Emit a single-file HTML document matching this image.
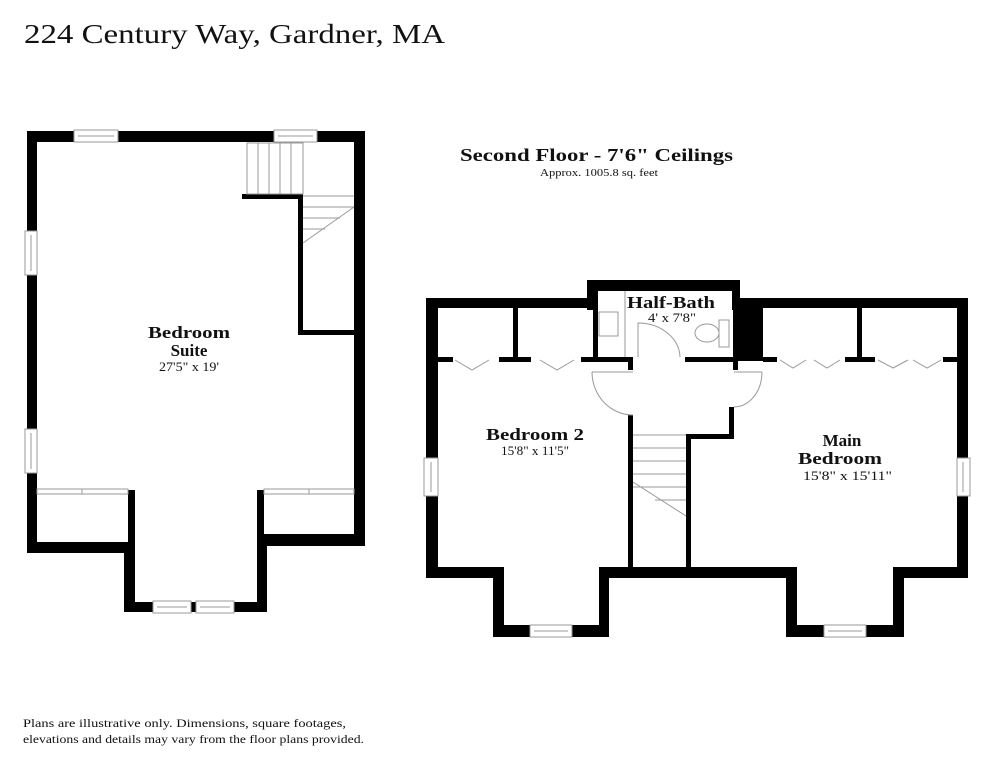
<!DOCTYPE html>
<html><head><meta charset="utf-8"><style>
html,body{margin:0;padding:0;background:#fff;}
svg{display:block;}
text{font-family:"Liberation Serif",serif;fill:#111;}
.b{font-weight:bold;}
</style></head><body>
<svg width="994" height="768" viewBox="0 0 994 768" xmlns="http://www.w3.org/2000/svg">
<rect width="994" height="768" fill="#fff"/>
<text x="24" y="43" font-size="27" textLength="421" lengthAdjust="spacingAndGlyphs">224 Century Way, Gardner, MA</text>

<!-- LEFT PLAN -->
<g fill="#000">
<rect x="27" y="131" width="338" height="11"/>
<rect x="27" y="131" width="10" height="422"/>
<rect x="354" y="131" width="11" height="415"/>
<rect x="27" y="542" width="108" height="11"/>
<rect x="128" y="490" width="7" height="63"/>
<rect x="124" y="542" width="11" height="70"/>
<rect x="124" y="602" width="143" height="10"/>
<rect x="257" y="534" width="10" height="78"/>
<rect x="257" y="490" width="7" height="50"/>
<rect x="257" y="534" width="108" height="12"/>
<rect x="242" y="194" width="61" height="5"/>
<rect x="298" y="194" width="5" height="141"/>
<rect x="298" y="330" width="56" height="5"/>
</g>
<g fill="#fff" stroke="#999" stroke-width="1">
<rect x="74" y="130" width="44" height="12"/>
<rect x="274" y="130" width="43" height="12"/>
<rect x="25" y="231" width="12" height="44"/>
<rect x="25" y="429" width="12" height="44"/>
<rect x="153" y="601" width="38" height="12"/>
<rect x="196" y="601" width="38" height="12"/>
</g>
<g stroke="#999" stroke-width="1" fill="none">
<line x1="78" y1="136" x2="114" y2="136"/><line x1="278" y1="136" x2="313" y2="136"/>
<line x1="31" y1="235" x2="31" y2="271"/><line x1="31" y1="433" x2="31" y2="469"/>
<line x1="157" y1="607" x2="187" y2="607"/><line x1="200" y1="607" x2="230" y2="607"/>
<rect x="37" y="489" width="91" height="5"/><rect x="264" y="489" width="90" height="5"/>
<line x1="82" y1="489" x2="82" y2="494"/><line x1="309" y1="489" x2="309" y2="494"/>
<rect x="247" y="143" width="56" height="51"/>
<line x1="258" y1="143" x2="258" y2="194"/><line x1="269" y1="143" x2="269" y2="194"/>
<line x1="280" y1="143" x2="280" y2="194"/><line x1="291" y1="143" x2="291" y2="194"/>
<line x1="303" y1="196" x2="354" y2="196"/>
<line x1="303" y1="207" x2="354" y2="207"/><line x1="303" y1="218" x2="340" y2="218"/>
<line x1="303" y1="229" x2="325" y2="229"/>
<polyline points="303,243 354,207"/>
</g>
<text class="b" x="148" y="338" font-size="17" textLength="82" lengthAdjust="spacingAndGlyphs">Bedroom</text>
<text class="b" x="189" y="356" font-size="17" text-anchor="middle">Suite</text>
<text x="159" y="371" font-size="13" textLength="60" lengthAdjust="spacingAndGlyphs">27'5" x 19'</text>

<!-- HEADINGS -->
<text class="b" x="460" y="161" font-size="18" textLength="273" lengthAdjust="spacingAndGlyphs">Second Floor - 7'6" Ceilings</text>
<text x="540" y="176" font-size="11" textLength="118" lengthAdjust="spacingAndGlyphs">Approx. 1005.8 sq. feet</text>

<!-- RIGHT PLAN -->
<g fill="#000">
<rect x="426" y="298" width="12" height="280"/>
<rect x="426" y="298" width="172" height="10"/>
<rect x="587" y="280" width="11" height="30"/>
<rect x="587" y="280" width="153" height="11"/>
<rect x="732" y="280" width="8" height="30"/>
<rect x="732" y="298" width="236" height="10"/>
<rect x="957" y="298" width="11" height="280"/>
<rect x="733" y="308" width="30" height="53"/>
<rect x="593" y="291" width="5" height="71"/>
<rect x="426" y="567" width="78" height="11"/>
<rect x="493" y="567" width="11" height="70"/>
<rect x="493" y="625" width="116" height="12"/>
<rect x="599" y="567" width="10" height="70"/>
<rect x="599" y="567" width="198" height="11"/>
<rect x="786" y="567" width="11" height="70"/>
<rect x="786" y="625" width="118" height="12"/>
<rect x="893" y="567" width="11" height="70"/>
<rect x="893" y="567" width="75" height="11"/>
<rect x="513" y="308" width="5" height="54"/>
<rect x="857" y="308" width="5" height="54"/>
<rect x="438" y="357" width="15" height="5"/>
<rect x="499" y="357" width="32" height="5"/>
<rect x="581" y="357" width="52" height="5"/>
<rect x="628" y="357" width="5" height="13"/>
<rect x="685" y="357" width="48" height="5"/>
<rect x="733" y="357" width="5" height="13"/>
<rect x="763" y="357" width="14" height="5"/>
<rect x="845" y="357" width="30" height="5"/>
<rect x="943" y="357" width="14" height="5"/>
<rect x="628" y="415" width="5" height="152"/>
<rect x="729" y="407" width="5" height="31"/>
<rect x="686" y="434" width="48" height="5"/>
<rect x="686" y="434" width="5" height="133"/>
</g>
<g fill="#fff" stroke="#999" stroke-width="1">
<rect x="424" y="458" width="14" height="38"/>
<rect x="957" y="458" width="13" height="38"/>
<rect x="530" y="625" width="42" height="12"/>
<rect x="824" y="625" width="42" height="12"/>
</g>
<g stroke="#999" stroke-width="1" fill="none">
<line x1="431" y1="462" x2="431" y2="492"/><line x1="963" y1="462" x2="963" y2="492"/>
<line x1="534" y1="631" x2="568" y2="631"/><line x1="828" y1="631" x2="862" y2="631"/>
<polyline points="455,360 472,370 489,360"/><polyline points="540,360 557,370 574,360"/>
<polyline points="780,360 793,368 806,360"/><polyline points="814,360 827,368 840,360"/>
<polyline points="878,360 893,368 908,360"/><polyline points="913,360 927,368 941,360"/>
<rect x="599" y="312" width="19" height="24"/>
<line x1="625" y1="291" x2="625" y2="357"/>
<path d="M638,357 L638,323 A42,35 0 0 1 680,357"/>
<ellipse cx="707" cy="333" rx="12" ry="9"/>
<rect x="719" y="320" width="10" height="27"/>
<path d="M592,372 L633,372 M592,372 A41,43 0 0 0 633,415"/>
<path d="M762,372 L734,372 M762,372 A28,35 0 0 1 734,407"/>
<line x1="633" y1="435" x2="686" y2="435"/>
<line x1="633" y1="448" x2="686" y2="448"/><line x1="633" y1="461" x2="686" y2="461"/>
<line x1="633" y1="474" x2="686" y2="474"/><line x1="633" y1="487" x2="686" y2="487"/>
<line x1="655" y1="500" x2="686" y2="500"/>
<polyline points="633,482 686,516"/>
</g>
<text class="b" x="627" y="308" font-size="17" textLength="88" lengthAdjust="spacingAndGlyphs">Half-Bath</text>
<text x="648" y="322" font-size="13" textLength="48" lengthAdjust="spacingAndGlyphs">4' x 7'8"</text>
<text class="b" x="486" y="440" font-size="17" textLength="98" lengthAdjust="spacingAndGlyphs">Bedroom 2</text>
<text x="501" y="455" font-size="13" textLength="68" lengthAdjust="spacingAndGlyphs">15'8" x 11'5"</text>
<text class="b" x="842" y="446" font-size="17" text-anchor="middle">Main</text>
<text class="b" x="798" y="464" font-size="17" textLength="84" lengthAdjust="spacingAndGlyphs">Bedroom</text>
<text x="803" y="480" font-size="13" textLength="89" lengthAdjust="spacingAndGlyphs">15'8" x 15'11"</text>

<text x="23" y="727" font-size="12" textLength="323" lengthAdjust="spacingAndGlyphs">Plans are illustrative only. Dimensions, square footages,</text>
<text x="23" y="743" font-size="12" textLength="341" lengthAdjust="spacingAndGlyphs">elevations and details may vary from the floor plans provided.</text>
</svg>
</body></html>
